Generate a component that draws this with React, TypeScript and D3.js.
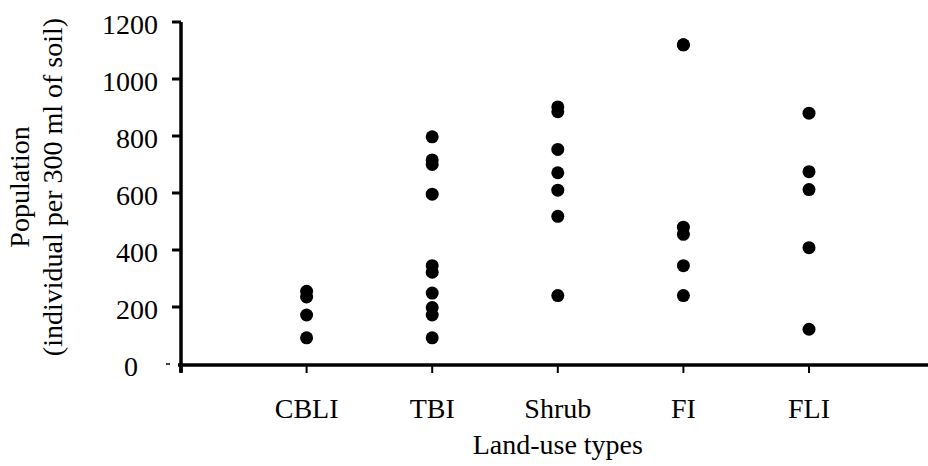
import React from "react";
import * as d3 from "d3";

const categories = ["CBLI", "TBI", "Shrub", "FI", "FLI"];
const cbliValues = [255, 235, 172, 92];
const tbiValues = [797, 716, 700, 596, 345, 322, 249, 198, 172, 92];
const shrubValues = [902, 885, 753, 671, 610, 518, 240];
const fiValues = [1120, 1120, 480, 455, 345, 240];
const fliValues = [880, 675, 612, 408, 122];
const yTicks = [0, 200, 400, 600, 800, 1000, 1200];
const xTitle = "Land-use types";
const yTitle1 = "Population";
const yTitle2 = "(individual per 300 ml of soil)";

const seriesValues = [cbliValues, tbiValues, shrubValues, fiValues, fliValues];

const W = 928;
const H = 466;
const FONT = "Liberation Serif, Times New Roman, DejaVu Serif, serif";
const FS = 28;
const txt = { fontFamily: FONT, fontSize: FS };

export default function App() {
  const x = d3.scaleLinear().domain([0, 6]).range([181, 934.6]);
  const y = d3.scaleLinear().domain([0, 1200]).range([364, 22]);
  const points = seriesValues.flatMap((vals, i) =>
    vals.map((v, j) => ({ cat: i + 1, v, key: `${i}-${j}` }))
  );
  const x0 = x(0);
  const y0 = y(0);
  return (
    <svg
      width={W}
      height={H}
      style={{ position: "absolute", left: 0, top: 0, background: "#fff" }}
    >
      <rect width={W} height={H} fill="#fff" />
      {/* y axis */}
      <line x1={x0} x2={x0} y1={y(1200)} y2={y0 + 8} stroke="#000" strokeWidth={3.5} />
      {yTicks.map((t) => (
        <g key={t}>
          <line
            x1={t === 0 ? x0 - 15 : x0 - 9}
            x2={t === 0 ? x0 - 11 : x0}
            y1={y(t)}
            y2={y(t)}
            stroke="#000"
            strokeWidth={t === 0 ? 1.5 : 3}
          />
          <text
            x={t === 0 ? 138 : 158}
            y={y(t)}
            dy="0.42em"
            textAnchor="end"
            style={txt}
            fill="#000"
          >
            {t}
          </text>
        </g>
      ))}
      {/* x axis */}
      <line x1={x0 - 3} x2={W} y1={y0 + 1} y2={y0 + 1} stroke="#000" strokeWidth={3.5} />
      {[0, 1, 2, 3, 4, 5].map((i) => (
        <line
          key={i}
          x1={x(i)}
          x2={x(i)}
          y1={y0 + 1}
          y2={y0 + 9}
          stroke="#000"
          strokeWidth={i === 0 ? 3.5 : 2}
        />
      ))}
      {categories.map((c, i) => (
        <text key={c} x={x(i + 1)} y={418} textAnchor="middle" style={txt} fill="#000">
          {c}
        </text>
      ))}
      <text x={x(3)} y={454} textAnchor="middle" style={txt} fill="#000">
        {xTitle}
      </text>
      <text
        transform={`translate(29,187) rotate(-90)`}
        textAnchor="middle"
        style={txt}
        fill="#000"
      >
        {yTitle1}
      </text>
      <text
        transform={`translate(62,187) rotate(-90)`}
        textAnchor="middle"
        style={txt}
        fill="#000"
      >
        {yTitle2}
      </text>
      {points.map((p) => (
        <circle key={p.key} cx={x(p.cat)} cy={y(p.v)} r={6.5} fill="#000" />
      ))}
    </svg>
  );
}
